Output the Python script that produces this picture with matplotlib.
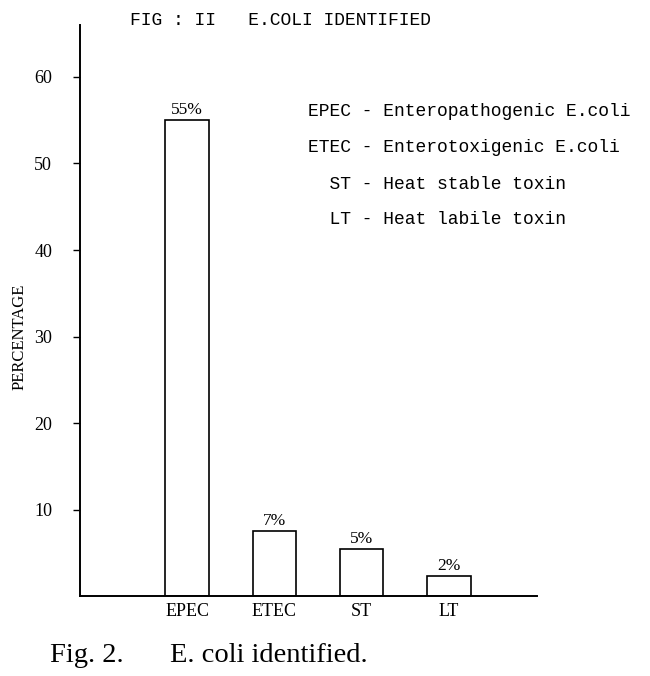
import numpy as np
import matplotlib.pyplot as plt

# bar heights as drawn, labels as printed above the bars
groups = ['EPEC', 'ETEC', 'ST', 'LT']
heights = [55, 7.5, 5.4, 2.3]
bar_labels = ['55%', '7%', '5%', '2%']
yticks = [10, 20, 30, 40, 50, 60]
legend_lines = ['EPEC - Enteropathogenic E.coli',
                'ETEC - Enterotoxigenic E.coli',
                '  ST - Heat stable toxin',
                '  LT - Heat labile toxin']

mono = 'Liberation Mono'
serif = 'Liberation Serif'

fig = plt.figure(figsize=(6.5, 6.76), dpi=100)
ax = fig.add_axes([0.123, 0.118, 0.703, 0.845])

x = np.arange(len(groups))
bars = ax.bar(x, heights, width=0.5, color='white', edgecolor='black', linewidth=1.2)
for b, lab in zip(bars, bar_labels):
    ax.text(b.get_x() + b.get_width() / 2, b.get_height() + 0.3, lab,
            ha='center', va='bottom', family=serif, fontsize=12.5)

ax.set_xlim(-1.23, 4.01)
ax.set_ylim(0, 66)
ax.set_yticks(yticks)
ax.set_yticklabels([str(t) for t in yticks], family=serif, fontsize=13)
ax.set_xticks(x)
ax.set_xticklabels(groups, family=serif, fontsize=13)
ax.tick_params(axis='x', length=0, pad=5)
ax.tick_params(axis='y', length=5, width=1, pad=15)
for s in ['top', 'right']:
    ax.spines[s].set_visible(False)
for s in ['left', 'bottom']:
    ax.spines[s].set_linewidth(1.4)
ax.set_ylabel('PERCENTAGE', family=serif, fontsize=12)
ax.yaxis.set_label_coords(-0.114, 0.455)

fig.text(0.2, 0.97, 'FIG : II   E.COLI IDENTIFIED', family=mono, fontsize=13,
         va='center', ha='left')

for i, line in enumerate(legend_lines):
    fig.text(0.474, 1 - (112 + i * 36) / 676, line, family=mono, fontsize=13,
             va='center', ha='left')

fig.text(0.077, 1 - 655 / 676, 'Fig. 2.', family=serif, fontsize=20.5,
         va='center', ha='left')
fig.text(0.262, 1 - 655 / 676, 'E. coli identified.', family=serif, fontsize=20.5,
         va='center', ha='left')

fig.savefig('out.png', dpi=100)
